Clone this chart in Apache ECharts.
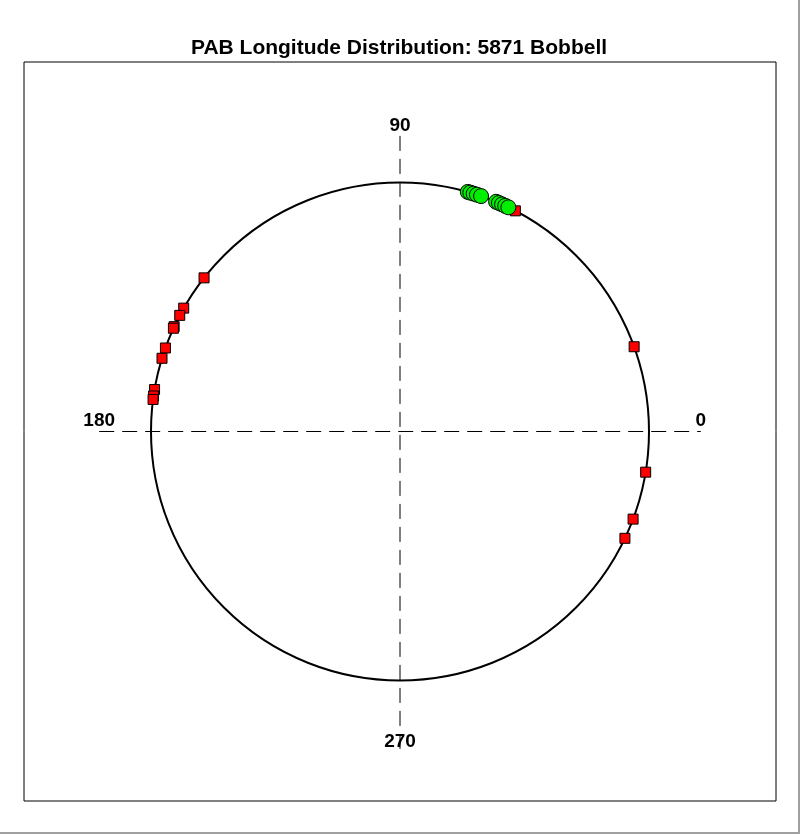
<!DOCTYPE html>
<html>
<head>
<meta charset="utf-8">
<script src="https://cdn.jsdelivr.net/npm/echarts@6/dist/echarts.min.js"></script>
<style>
  html, body { margin: 0; padding: 0; background: #fff; }
  #chart { width: 798px; height: 832px; border-right: 2px solid #a0a0a0; border-bottom: 2px solid #a0a0a0; }
</style>
</head>
<body>
<div id="chart"></div>
<script>
// Data (angles in degrees, longitude distribution)
const titleText = 'PAB Longitude Distribution: 5871 Bobbell';
const redAngles = [19.9, 62.4, 141.9, 150.3, 152.2, 155.1, 155.5, 160.4, 162.9, 170.3, 171.8, 172.6, 334.6, 339.4, 350.6];
const greenAngles = [74.2, 73.6, 72.8, 72.0, 71.0, 67.3, 66.6, 65.8, 65.0, 64.2];
const tickLabels = ['0', '90', '180', '270'];
const tickAngles = [0, 90, 180, 270];

const chart = echarts.init(document.getElementById('chart'), null, { renderer: 'canvas' });

const FONT = 'Liberation Sans, Arial, sans-serif';

// label anchor points derived from tick angles
const labelPts = tickAngles.map((a, i) => {
  const r = Math.PI * a / 180;
  const cx = Math.round(Math.cos(r));
  const cy = Math.round(Math.sin(r));
  let x = cx * 1.2, y = cy * 1.24;
  if (cy === 0) y = 0.043;
  if (cy < 0) y = -1.26;
  return { value: [x, y], name: tickLabels[i] };
});

const option = {
  animation: false,
  backgroundColor: '#ffffff',
  title: {
    text: titleText,
    left: 'center',
    top: 33,
    textStyle: { fontFamily: FONT, fontWeight: 'bold', fontSize: 21, color: '#000' }
  },
  grid: {
    left: 24, top: 62, width: 752, height: 739,
    show: true, borderColor: '#000', borderWidth: 1, backgroundColor: '#fff'
  },
  xAxis: { type: 'value', min: -1.5, max: 1.5, show: false },
  yAxis: { type: 'value', min: -1.5, max: 1.5, show: false },
  polar: { center: [400, 431.5], radius: 249 },
  angleAxis: {
    type: 'value', min: 0, max: 360, startAngle: 0, clockwise: false,
    axisLine: { show: true, lineStyle: { color: '#000', width: 2 } },
    axisTick: { show: false }, axisLabel: { show: false }, splitLine: { show: false }
  },
  radiusAxis: {
    type: 'value', min: 0, max: 1, show: false,
    axisLine: { show: false }, axisTick: { show: false }, axisLabel: { show: false }, splitLine: { show: false }
  },
  series: [
    {
      type: 'scatter', coordinateSystem: 'cartesian2d', symbolSize: 0, silent: true, z: 1,
      data: labelPts,
      itemStyle: { opacity: 1, color: '#000' },
      label: {
        show: true, position: 'inside', formatter: p => p.name,
        fontFamily: FONT, fontWeight: 'bold', fontSize: 19, color: '#000000',
        textBorderWidth: 0, textBorderColor: 'transparent', opacity: 1
      }
    },
    {
      type: 'line', coordinateSystem: 'cartesian2d', symbol: 'none', silent: true, z: 3,
      data: [[-1.2, 0], [1.2, 0]],
      lineStyle: { color: '#000', width: 1, type: [15, 8] }
    },
    {
      type: 'line', coordinateSystem: 'cartesian2d', symbol: 'none', silent: true, z: 3,
      data: [[0, 1.2], [0, -1.3]],
      lineStyle: { color: '#000', width: 1, type: [15, 8] }
    },
    {
      type: 'scatter', coordinateSystem: 'polar', symbol: 'rect', symbolSize: 10, z: 4,
      data: redAngles.map(a => [1, a]),
      itemStyle: { color: '#ff0000', borderColor: '#000', borderWidth: 1, opacity: 1 }
    },
    {
      type: 'scatter', coordinateSystem: 'polar', symbol: 'circle', symbolSize: 15, z: 5,
      data: greenAngles.map(a => [1, a]),
      itemStyle: { color: '#00ee00', borderColor: '#000', borderWidth: 1, opacity: 1 }
    }
  ]
};
chart.setOption(option);
</script>
</body>
</html>
